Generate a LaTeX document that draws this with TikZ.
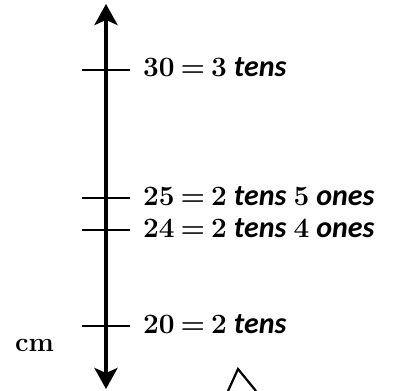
\documentclass[tikz,border=0pt]{standalone}
\usepackage{fontspec}
\newfontfamily\carl{Carlito}
\usetikzlibrary{arrows.meta}
\tikzset{
  axisline/.style={line width=3.6pt,{Stealth[length=21pt,width=23pt,inset=5pt]}-{Stealth[length=21pt,width=23pt,inset=5pt]}},
  tickline/.style={line width=2.8pt},
  lbl/.style={anchor=base west,inner sep=0pt,font=\bfseries\fontsize{28}{30}\selectfont}
}
\newcommand{\myword}[1]{{\carl\bfseries\itshape\fontsize{30}{32}\selectfont #1}}
\newcommand{\gp}[1]{\hspace{#1pt}}
\begin{document}
\begin{tikzpicture}[x=1pt,y=-1pt]
\useasboundingbox (0,0) rectangle (398,390);
\coordinate (top) at (106,4);
\coordinate (bot) at (106,389);
\draw[axisline] (bot) -- (top);
\coordinate (a1) at (82,70);   \coordinate (b1) at (130,70);
\coordinate (a2) at (82,198);  \coordinate (b2) at (130,198);
\coordinate (a3) at (82,230);  \coordinate (b3) at (130,230);
\coordinate (a4) at (82,326);  \coordinate (b4) at (130,326);
\draw[tickline] (a1) -- (b1);
\draw[tickline] (a2) -- (b2);
\draw[tickline] (a3) -- (b3);
\draw[tickline] (a4) -- (b4);
\node[lbl] (l30) at (143,77) {30\gp{6}=\gp{6}3\gp{7}\myword{tens}};
\node[lbl] (l25) at (143,205) {25\gp{6}=\gp{6}2\gp{7}\myword{tens}\gp{7}5\gp{7}\myword{ones}};
\node[lbl] (l24) at (143,237) {24\gp{6}=\gp{6}2\gp{7}\myword{tens}\gp{7}4\gp{7}\myword{ones}};
\node[lbl] (l20) at (143,333) {20\gp{6}=\gp{6}2\gp{7}\myword{tens}};
\node[lbl,font=\bfseries\fontsize{27}{30}\selectfont] (cm) at (15,351) {cm};
\coordinate (ta) at (228,391);
\coordinate (tb) at (238,369);
\coordinate (tc) at (256,391);
\draw[line width=2.2pt,line join=miter] (ta) -- (tb) -- (tc);
\end{tikzpicture}
\end{document}
